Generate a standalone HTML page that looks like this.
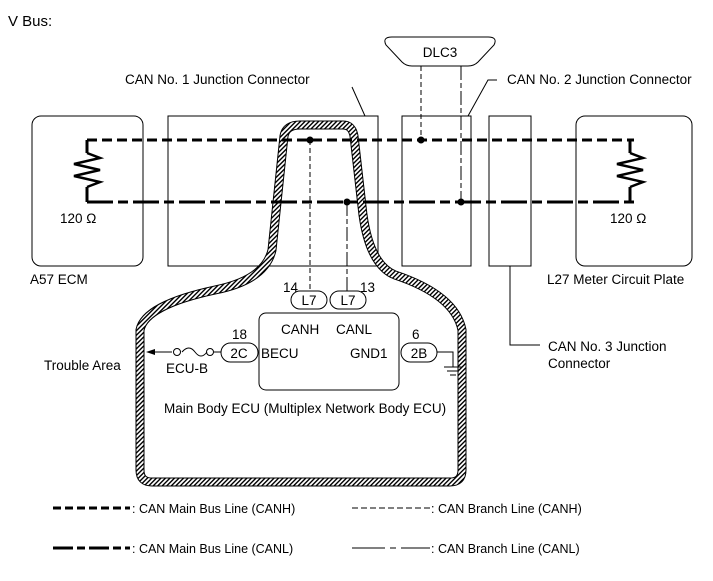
<!DOCTYPE html>
<html><head><meta charset="utf-8"><style>
html,body{margin:0;padding:0;background:#fff;}
svg{display:block;font-family:"Liberation Sans",Arial,sans-serif;}
</style></head><body>
<svg width="713" height="581" viewBox="0 0 713 581" xmlns="http://www.w3.org/2000/svg">
<defs>
<pattern id="h" width="3.2" height="3.2" patternUnits="userSpaceOnUse" patternTransform="rotate(45)">
<rect width="3.2" height="3.2" fill="#fff"/><rect width="1.4" height="3.2" fill="#000"/>
</pattern>
</defs>
<g font-size="13.5" fill="#000">
<text x="8" y="26" font-size="15">V Bus:</text>
<text x="125" y="84">CAN No. 1 Junction Connector</text>
<text x="507" y="84">CAN No. 2 Junction Connector</text>
<text x="30" y="284">A57  ECM</text>
<text x="547" y="284">L27  Meter Circuit Plate</text>
<text x="548" y="351">CAN No. 3 Junction</text>
<text x="548" y="368">Connector</text>
</g>
<g fill="none" stroke="#000" stroke-width="1">
<rect x="32" y="116" width="111" height="150" rx="9"/>
<rect x="168" y="116" width="210" height="150"/>
<rect x="402" y="116" width="69" height="150"/>
<rect x="489" y="116" width="42" height="150"/>
<rect x="576" y="116" width="116" height="150" rx="9"/>
<path d="M392 37 H488 Q498 37 494 45 L478 62 Q474 66 468 66 H412 Q406 66 402 62 L386 45 Q382 37 392 37 Z"/>
<path d="M352 87 L365 116"/>
<path d="M497 80 H488 L468 116"/>
<path d="M510 266 V345 H540"/>
</g>
<text x="440" y="57" font-size="13.5" text-anchor="middle">DLC3</text>
<path d="M300 125 H343 Q352 125 354 136 L363 215 Q370 265 395 275 Q455 295 462 330 L462 470 Q462 482 450 482 H152 Q140 482 140 470 L140 330 Q145 305 215 290 Q265 280 272 250 L284 136 Q286 125 300 125 Z" fill="none" stroke="#000" stroke-width="9"/>
<path d="M300 125 H343 Q352 125 354 136 L363 215 Q370 265 395 275 Q455 295 462 330 L462 470 Q462 482 450 482 H152 Q140 482 140 470 L140 330 Q145 305 215 290 Q265 280 272 250 L284 136 Q286 125 300 125 Z" fill="none" stroke="url(#h)" stroke-width="7"/>
<g fill="none" stroke="#000" stroke-width="3">
<path d="M87 140 H634" stroke-dasharray="10,5"/>
<path d="M87 202 H634" stroke-dasharray="26,5,10,5"/>
<path d="M87 140 V153 M87 187 V202 M630 140 V153 M630 187 V202" stroke-dasharray="none"/>
<path d="M87 153 L100 158 L74 164 L100 170 L74 176 L100 182 L87 187" stroke-width="2.5"/>
<path d="M630 153 L643 158 L617 164 L643 170 L617 176 L643 182 L630 187" stroke-width="2.5"/>
</g>
<g fill="none" stroke="#000" stroke-width="1">
<path d="M421 66 V140" stroke-dasharray="5,3"/>
<path d="M461 66 V202" stroke-dasharray="14,3,5,3"/>
<path d="M310 140 V291" stroke-dasharray="5,3"/>
<path d="M347 202 V291" stroke-dasharray="14,3,5,3"/>
</g>
<g fill="#000"><circle cx="310" cy="140" r="3.5"/><circle cx="347" cy="202" r="3.5"/><circle cx="421" cy="140" r="3.5"/><circle cx="461" cy="202" r="3.5"/></g>
<g font-size="13.5">
<text x="60" y="223">120 Ω</text><text x="610" y="223">120 Ω</text>
<text x="283" y="292">14</text><text x="360" y="292">13</text>
</g>
<g fill="#fff" stroke="#000" stroke-width="1">
<rect x="291" y="291" width="36" height="18" rx="9"/>
<rect x="330" y="291" width="36" height="18" rx="9"/>
<rect x="259" y="313" width="140" height="77" rx="7"/>
<rect x="221" y="343" width="37" height="19" rx="9.5"/>
<rect x="401" y="343" width="36" height="19" rx="9.5"/>
</g>
<g font-size="13.5">
<text x="309" y="305" text-anchor="middle">L7</text><text x="348" y="305" text-anchor="middle">L7</text>
<text x="281" y="334">CANH</text><text x="336" y="334">CANL</text>
<text x="261" y="358">BECU</text><text x="350" y="358">GND1</text>
<text x="239" y="358" text-anchor="middle">2C</text><text x="419" y="358" text-anchor="middle">2B</text>
<text x="232" y="339">18</text><text x="412" y="339">6</text>
<text x="44" y="370">Trouble Area</text>
<text x="166" y="373">ECU-B</text>
<text x="164" y="413">Main Body ECU (Multiplex Network Body ECU)</text>
</g>
<g fill="none" stroke="#000" stroke-width="1">
<path d="M152 352 H172 M182 352 Q189 344 195 352 Q201 360 207 352 M214 352 H221"/>
<circle cx="177" cy="352" r="3.5"/><circle cx="210" cy="352" r="3.5"/>
<path d="M437 352 H453 V367 M444 367 H462 M447 371 H459 M450 375 H456"/>
</g>
<path d="M146 352 L155 349 L155 355 Z" fill="#000"/>
<g stroke="#000" fill="none">
<path d="M53 508 H130" stroke-width="3" stroke-dasharray="8,4"/>
<path d="M352 508 H430" stroke-width="1" stroke-dasharray="6,3"/>
<path d="M53 548 H130" stroke-width="3" stroke-dasharray="20,4,8,4"/>
<path d="M352 548 H385 M390 548 H396 M401 548 H430" stroke-width="1"/>
</g>
<g font-size="12.5">
<text x="132" y="513">: CAN Main Bus Line (CANH)</text>
<text x="431" y="513">: CAN Branch Line (CANH)</text>
<text x="132" y="553">: CAN Main Bus Line (CANL)</text>
<text x="431" y="553">: CAN Branch Line (CANL)</text>
</g>
</svg>
</body></html>
